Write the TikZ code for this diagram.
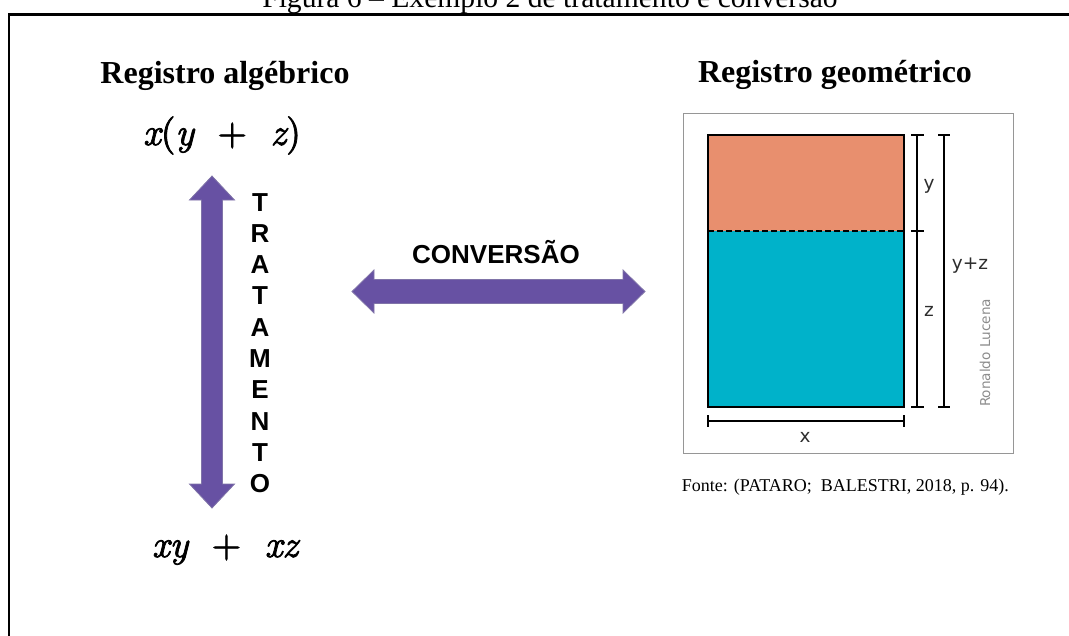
\documentclass[tikz,border=0pt]{standalone}
\usepackage{fontspec}
\setmainfont{Liberation Serif}
\newfontfamily\arialfont{Liberation Sans}
\newfontfamily\labelfont{DejaVu Sans}
\newfontfamily\formulaup{lmroman10-regular.otf}[FakeBold=2]
\newfontfamily\formulait{lmroman10-italic.otf}[FakeBold=2]
\newcommand{\var}[1]{{\formulait #1}}

\definecolor{arrowpurple}{RGB}{103,81,163}
\definecolor{arrowedge}{RGB}{128,116,168}
\definecolor{rectorange}{RGB}{232,143,110}
\definecolor{rectteal}{RGB}{0,178,202}
\definecolor{framegray}{RGB}{150,150,150}
\definecolor{signgray}{RGB}{140,140,140}
\definecolor{dimtext}{RGB}{45,45,45}

\tikzset{
  title/.style={anchor=base, inner sep=0, font=\bfseries\fontsize{32}{38}\selectfont},
  formula/.style={anchor=base, inner sep=0, font=\formulaup\fontsize{38}{44}\selectfont},
  bigarrow/.style={fill=arrowpurple, draw=arrowedge, line width=0.8pt, line join=miter},
  sanslabel/.style={inner sep=0, font=\arialfont\bfseries\fontsize{26}{31.3}\selectfont},
  dimline/.style={draw=black, line width=1.9pt},
  dimlabel/.style={inner sep=0, text=dimtext, font=\labelfont\fontsize{18.5}{22}\selectfont},
}

\begin{document}
\begin{tikzpicture}[x=1pt, y=-1pt]
\useasboundingbox (0,0) rectangle (1069,635);

\begin{scope}
  \clip (0,0) rectangle (1069,635);
  % figure caption, cut by the page top
  \node[anchor=base, inner sep=0, font=\fontsize{29.6}{34}\selectfont] (caption) at (550,7)
    {Figura 6 -- Exemplo 2 de tratamento e conversão};
  % frame
  \draw[line width=2.5pt] (9,640) -- (9,14.5) -- (1075,14.5);
\end{scope}

% algebraic register
\node[title] (algtitle) at (225,83) {Registro algébrico};
\node[formula] (expr1) at (222,145) {\var{x}(\var{y}\hspace{0.62em}+\hspace{0.62em}\var{z})};
\node[formula] (expr2) at (225,557) {\var{xy}\hspace{0.62em}+\hspace{0.62em}\var{xz}};

% treatment arrow
\coordinate (tTop) at (212,176);
\coordinate (tBot) at (212,508);
\path[bigarrow] (tTop) -- ++(22.5,24) -- ++(-12,0) -- ++(0,284) -- ++(12,0)
  -- (tBot) -- ++(-22.5,-24) -- ++(12,0) -- ++(0,-284) -- ++(-12,0) -- cycle;
\node[sanslabel, anchor=north, align=center] (trat) at (260,193)
  {T\\R\\A\\T\\A\\M\\E\\N\\T\\O};

% conversion arrow
\coordinate (cLeft) at (352,291.5);
\coordinate (cRight) at (645,291.5);
\path[bigarrow] (cLeft) -- ++(22,-21.5) -- ++(0,9.5) -- ++(249,0) -- ++(0,-9.5)
  -- (cRight) -- ++(-22,21.5) -- ++(0,-9.5) -- ++(-249,0) -- ++(0,9.5) -- cycle;
\node[sanslabel, anchor=base] (conv) at (496,263) {CONVERSÃO};

% geometric register
\node[title] (geotitle) at (835,82) {Registro geométrico};
\draw[framegray, line width=1.5pt] (683.5,113.5) rectangle (1013.5,453.5);
\fill[rectorange] (708.3,135) rectangle (904.3,230.7);
\fill[rectteal] (708.3,230.7) rectangle (904.3,406.7);
\draw[black, line width=2.3pt, dash pattern=on 6pt off 3pt] (708.3,230.7) -- (904.3,230.7);
\draw[black, line width=2.2pt] (708.3,135) rectangle (904.3,406.7);

% dimensions
\draw[dimline] (917.3,135) -- (917.3,406.7);
\draw[dimline] (911,135) -- (923.6,135);
\draw[dimline] (911,230.7) -- (923.6,230.7);
\draw[dimline] (911,406.7) -- (923.6,406.7);
\draw[dimline] (944,135) -- (944,406.7);
\draw[dimline] (938,135) -- (950,135);
\draw[dimline] (938,406.7) -- (950,406.7);
\draw[dimline] (708.3,421) -- (904.3,421);
\draw[dimline] (708.3,415) -- (708.3,427);
\draw[dimline] (904.3,415) -- (904.3,427);

\node[dimlabel] (ly) at (929,186) {y};
\node[dimlabel] (lz) at (929,311) {z};
\node[dimlabel] (lyz) at (970,266) {y+z};
\node[dimlabel] (lx) at (805,437) {x};
\node[inner sep=0, rotate=90, text=signgray, font=\labelfont\fontsize{13.6}{16}\selectfont] (sign) at (985,353) {Ronaldo Lucena};

\node[anchor=base west, inner sep=0, font=\fontsize{18}{21}\selectfont] (source) at (681.7,491.7)
  {Fonte: (PATARO;\ \ BALESTRI, 2018, p. 94).};
\end{tikzpicture}
\end{document}
